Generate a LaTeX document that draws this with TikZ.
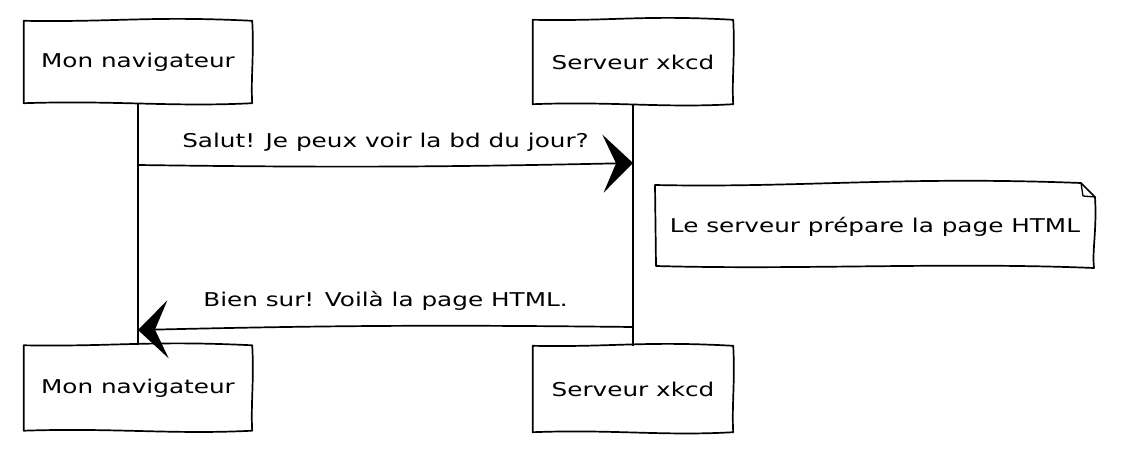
\documentclass[tikz,border=0pt]{standalone}
\usepackage{fontspec}
\setmainfont[FakeStretch=1.3]{DejaVu Sans}
\usetikzlibrary{arrows.meta,calc}
\newcommand\skbox[1]{%
\draw[boxline] (#1.north west)
 .. controls ($(#1.north west)!0.4!(#1.north east)+(0,1.5)$) and ($(#1.north west)!0.55!(#1.north east)+(0,-5)$) .. (#1.north east)
 .. controls ($(#1.north east)!0.4!(#1.south east)+(2,0)$) and ($(#1.north east)!0.7!(#1.south east)+(-1.5,0)$) .. (#1.south east)
 .. controls ($(#1.south east)!0.35!(#1.south west)+(0,4)$) and ($(#1.south east)!0.6!(#1.south west)+(0,-3)$) .. (#1.south west)
 -- cycle;}
\begin{document}
\begin{tikzpicture}[x=1pt,y=-1pt,
  boxline/.style={line width=1.7pt, line join=round},
  actor/.style={inner sep=0pt, font=\fontsize{19}{23}\selectfont},
  lifeline/.style={line width=1.3pt},
  msg/.style={line width=1.7pt, -{Stealth[length=30pt, width=58pt, inset=13pt]}},
  lbl/.style={font=\fontsize{19}{23}\selectfont, inner sep=0pt}
]
\useasboundingbox (0,0) rectangle (1127,466);

% participants
\node[actor, minimum width=228pt, minimum height=82pt] (ta) at (138,62) {Mon navigateur};
\node[actor, minimum width=200pt, minimum height=84pt] (tb) at (633,62) {Serveur xkcd};
\node[actor, minimum width=228pt, minimum height=85pt] (ba) at (138,388) {Mon navigateur};
\node[actor, minimum width=200pt, minimum height=86pt] (bb) at (633,389) {Serveur xkcd};
\skbox{ta}\skbox{tb}\skbox{ba}\skbox{bb}

% lifelines
\draw[lifeline] (ta.south) -- (ba.north);
\draw[lifeline] (tb.south) -- (bb.north);

% message anchors on lifelines
\coordinate (m1s) at (138,165);
\coordinate (m1e) at (633,163);
\coordinate (m2s) at (633,327);
\coordinate (m2e) at (138,330);

\draw[msg] (m1s) to[bend right=1] node[lbl, midway, above=14pt] (l1) {Salut! Je peux voir la bd du jour?} (m1e);
\draw[msg] (m2s) to[bend right=1] node[lbl, midway, above=15pt] (l2) {Bien sur! Voilà la page HTML.} (m2e);

% note
\node[lbl] (note) at (875,227) {Le serveur prépare la page HTML};
\draw[boxline] (655,185) .. controls (800,188) and (900,176) .. (1081,183)
  -- (1095,197) .. controls (1097,230) and (1092,250) .. (1094,268) .. controls (950,262) and (800,270) .. (656,266) -- cycle;
\draw[line width=1.3pt, line join=round] (1081,183) -- (1083,196) -- (1095,197);
\end{tikzpicture}
\end{document}
